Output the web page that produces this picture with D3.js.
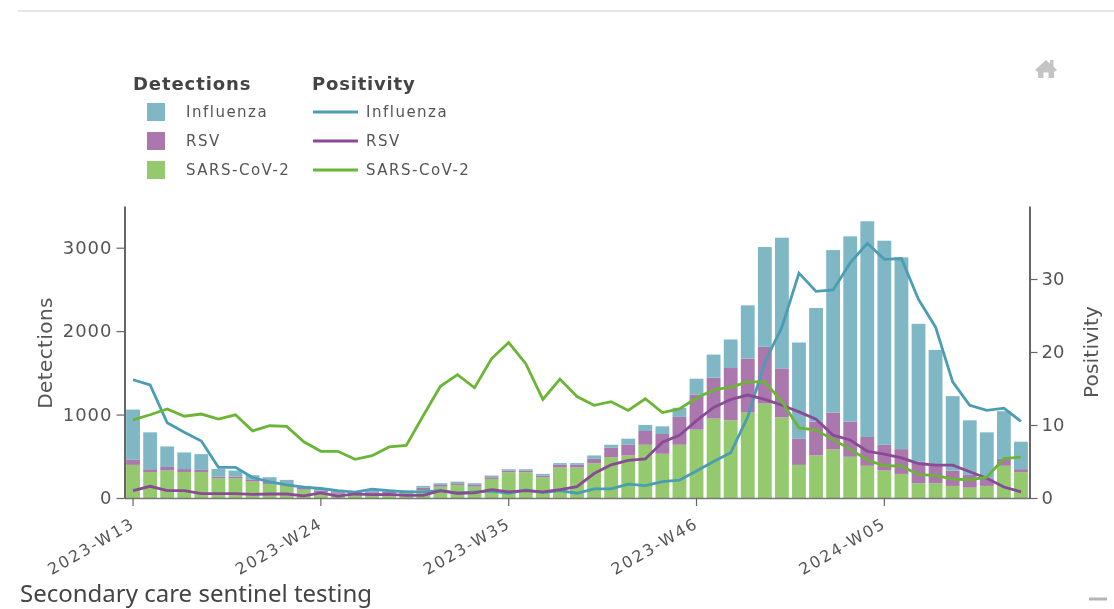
<!DOCTYPE html>
<html>
<head>
<meta charset="utf-8">
<script src="https://cdn.jsdelivr.net/npm/d3@7"></script>
<style>
  html, body { margin: 0; padding: 0; background: #fff; overflow: hidden; }
  svg { display: block; filter: blur(0.4px); }
  text { font-family: "DejaVu Sans", sans-serif; fill: #555; }
</style>
</head>
<body>
<svg id="chart" width="1114" height="609"></svg>
<script>
var years = [2023, 2024];
var firstWeek = 13;
var tickLabels = ['2023-W13', '2023-W24', '2023-W35', '2023-W46', '2024-W05'];
var names = ['Influenza', 'RSV', 'SARS-CoV-2'];
var colors = { 'Influenza': '#7fb7c5', 'RSV': '#ab78ae', 'SARS-CoV-2': '#94c96d' };
var lineColors = { 'Influenza': '#4b9db3', 'RSV': '#894b95', 'SARS-CoV-2': '#6bb535' };

var detSars = [397,312,329,312,312,237,237,197,169,157,100,70,50,45,55,60,60,96,136,157,136,229,309,309,249,365,365,418,490,510,638,530,638,819,952,932,1024,1132,967,397,510,582,494,386,329,289,177,177,145,124,145,386,310];
var detRsv = [61,33,43,35,25,20,20,20,23,20,20,20,20,15,15,15,15,28,21,20,21,20,20,20,20,33,33,52,112,128,165,237,334,422,490,626,648,680,587,317,406,442,422,345,309,297,260,209,184,153,92,84,36];
var detFlu = [602,442,246,199,189,92,72,56,57,40,25,25,15,15,20,15,15,21,20,19,20,20,16,16,20,20,20,40,36,73,73,92,109,189,277,342,637,1196,1566,1150,1361,1948,2220,2586,2446,2298,1651,1389,892,654,550,570,329];

var posFlu = [16.2,15.5,10.3,9.0,7.8,4.2,4.2,2.8,2.2,1.8,1.5,1.3,1.0,0.8,1.2,1.0,0.85,0.85,1.0,0.65,0.85,0.95,0.65,1.1,0.75,1.0,0.65,1.25,1.25,1.9,1.7,2.25,2.45,3.7,5.0,6.2,11.1,18.6,23.4,30.8,28.3,28.5,32.2,34.9,32.7,32.8,27.2,23.4,15.9,12.7,12.0,12.3,10.5];
var posRsv = [1.0,1.6,1.0,1.0,0.6,0.6,0.6,0.5,0.55,0.55,0.3,0.7,0.25,0.55,0.45,0.5,0.35,0.35,1.0,0.65,0.7,1.15,0.85,1.0,0.85,1.15,1.55,3.35,4.55,5.15,5.35,7.65,8.6,10.6,12.4,13.5,14.1,13.5,12.7,11.8,10.8,8.6,7.95,6.4,6.0,5.5,4.7,4.5,4.5,3.6,2.7,1.5,0.85];
var posSars = [10.7,11.4,12.2,11.2,11.5,10.8,11.4,9.2,9.9,9.8,7.7,6.4,6.4,5.3,5.8,7.0,7.2,11.3,15.3,16.9,15.1,19.1,21.3,18.4,13.5,16.3,13.9,12.7,13.2,12.0,13.6,11.7,12.2,13.7,14.8,15.2,15.9,15.9,13.2,9.6,9.3,8.0,6.7,5.2,4.4,4.4,3.2,3.1,2.6,2.5,2.85,5.4,5.6];

// week labels, 2023 has 52 weeks
var weeks = detSars.map(function(d, i) {
  var w = firstWeek + i;
  var y = years[0];
  if (w > 52) { w = w - 52; y = years[1]; }
  return y + '-W' + (w < 10 ? '0' + w : w);
});

var rows = weeks.map(function(w, i) {
  return { week: w, 'SARS-CoV-2': detSars[i], 'RSV': detRsv[i], 'Influenza': detFlu[i] };
});
var lines = [
  { name: 'Influenza', values: posFlu },
  { name: 'RSV', values: posRsv },
  { name: 'SARS-CoV-2', values: posSars }
];

var svg = d3.select('#chart');
var MARGINS = { top: 206, right: 1029.5, bottom: 498, left: 124.5 };

var xRange = d3.scaleBand().range([MARGINS.left, MARGINS.right]).paddingInner(0.19).paddingOuter(0.095).domain(weeks);
var yLeft = d3.scaleLinear().range([MARGINS.bottom, MARGINS.top]).domain([0, 3500]);
var yRight = d3.scaleLinear().range([MARGINS.bottom, MARGINS.top]).domain([0, 40]);

// top rule and the little minimise mark
svg.append('line').attr('x1', 18).attr('x2', 1114).attr('y1', 11).attr('y2', 11).attr('stroke', '#dcdcdc').attr('stroke-width', 1.5);
svg.append('line').attr('x1', 1089).attr('x2', 1107).attr('y1', 599).attr('y2', 599).attr('stroke', '#b5b5b5').attr('stroke-width', 3);

// home icon
svg.append('path')
  .attr('transform', 'translate(1046,69)')
  .attr('fill', '#c4c4c4')
  .attr('d', 'M-11,1 L0,-9 L4,-5.5 L4,-9 L7.5,-9 L7.5,-2.5 L11,1 L8,3 L8,9 L2.5,9 L2.5,3.5 L-2.5,3.5 L-2.5,9 L-8,9 L-8,3 Z');

// bars
var stack = d3.stack().keys(['SARS-CoV-2', 'RSV', 'Influenza']);
svg.append('g').selectAll('g')
  .data(stack(rows))
  .enter()
  .append('g')
  .attr('fill', function(d) { return colors[d.key]; })
  .selectAll('rect')
  .data(function(d) { return d; })
  .enter()
  .append('rect')
  .attr('x', function(d) { return xRange(d.data.week); })
  .attr('y', function(d) { return yLeft(d[1]); })
  .attr('width', xRange.bandwidth())
  .attr('height', function(d) { return yLeft(d[0]) - yLeft(d[1]); });

// positivity lines
var line = d3.line()
  .x(function(d, i) { return xRange(weeks[i]) + xRange.bandwidth() / 2; })
  .y(function(d) { return yRight(d); });
svg.append('g').selectAll('path')
  .data(lines)
  .enter()
  .append('path')
  .attr('fill', 'none')
  .attr('stroke', function(d) { return lineColors[d.name]; })
  .attr('stroke-width', 2.8)
  .attr('d', function(d) { return line(d.values); });

// axes
var gx = svg.append('g')
  .attr('transform', 'translate(0,' + MARGINS.bottom + ')')
  .call(d3.axisBottom(xRange).tickValues(tickLabels).tickSize(8).tickSizeOuter(0));
gx.selectAll('text')
  .attr('font-size', 16)
  .attr('letter-spacing', 1.9)
  .style('text-anchor', 'end')
  .attr('dx', '4')
  .attr('dy', '14')
  .attr('transform', 'translate(-13,9) rotate(-30)');
gx.select('.domain').attr('stroke', '#777').attr('stroke-width', 1.5);
gx.selectAll('.tick line').attr('stroke', '#666').attr('stroke-width', 1.2);

var gl = svg.append('g')
  .attr('transform', 'translate(' + MARGINS.left + ',0)')
  .call(d3.axisLeft(yLeft).tickValues([0, 1000, 2000, 3000]).tickFormat(d3.format('d')).tickSize(8).tickSizeOuter(0));
gl.selectAll('text').attr('font-size', 18).attr('letter-spacing', 1).attr('dx', -1);
gl.select('.domain').attr('stroke', '#333').attr('stroke-width', 1.5);
gl.selectAll('.tick line').attr('stroke', '#666').attr('stroke-width', 1.2);

var gr = svg.append('g')
  .attr('transform', 'translate(' + MARGINS.right + ',0)')
  .call(d3.axisRight(yRight).tickValues([0, 10, 20, 30]).tickSize(8).tickSizeOuter(0));
gr.selectAll('text').attr('font-size', 18).attr('dx', 1);
gr.select('.domain').attr('stroke', '#333').attr('stroke-width', 1.5);
gr.selectAll('.tick line').attr('stroke', '#666').attr('stroke-width', 1.2);

svg.append('text')
  .attr('transform', 'translate(52,353) rotate(-90)')
  .attr('text-anchor', 'middle')
  .attr('font-size', 20)
  .attr('letter-spacing', 0.4)
  .text('Detections');
svg.append('text')
  .attr('transform', 'translate(1098,352) rotate(-90)')
  .attr('text-anchor', 'middle')
  .attr('font-size', 20)
  .attr('letter-spacing', 0.2)
  .text('Positivity');

// legend
var rowY = d3.scalePoint().domain(names).range([112, 170]);
svg.append('text').attr('x', 133).attr('y', 90).attr('font-size', 18).attr('letter-spacing', 0.9).attr('font-weight', 'bold').style('fill', '#444').text('Detections');
svg.append('text').attr('x', 312).attr('y', 90).attr('font-size', 18).attr('letter-spacing', 0.8).attr('font-weight', 'bold').style('fill', '#444').text('Positivity');

var leg = svg.append('g').selectAll('g')
  .data(names)
  .enter()
  .append('g')
  .attr('transform', function(d) { return 'translate(0,' + rowY(d) + ')'; });
leg.append('rect').attr('x', 147).attr('y', -9).attr('width', 18).attr('height', 18).attr('fill', function(d) { return colors[d]; });
leg.append('text').attr('x', 186).attr('y', 5).attr('font-size', 15).attr('letter-spacing', 1.5).text(function(d) { return d; });
leg.append('line').attr('x1', 313).attr('x2', 358).attr('y1', 0).attr('y2', 0).attr('stroke-width', 2.8).attr('stroke', function(d) { return lineColors[d]; });
leg.append('text').attr('x', 366).attr('y', 5).attr('font-size', 15).attr('letter-spacing', 1.5).text(function(d) { return d; });

// title under the chart
svg.append('text')
  .attr('x', 20)
  .attr('y', 602)
  .attr('font-size', 24)
  .style('font-family', '"Noto Sans", sans-serif')
  .style('fill', '#444')
  .text('Secondary care sentinel testing');
</script>
</body>
</html>
